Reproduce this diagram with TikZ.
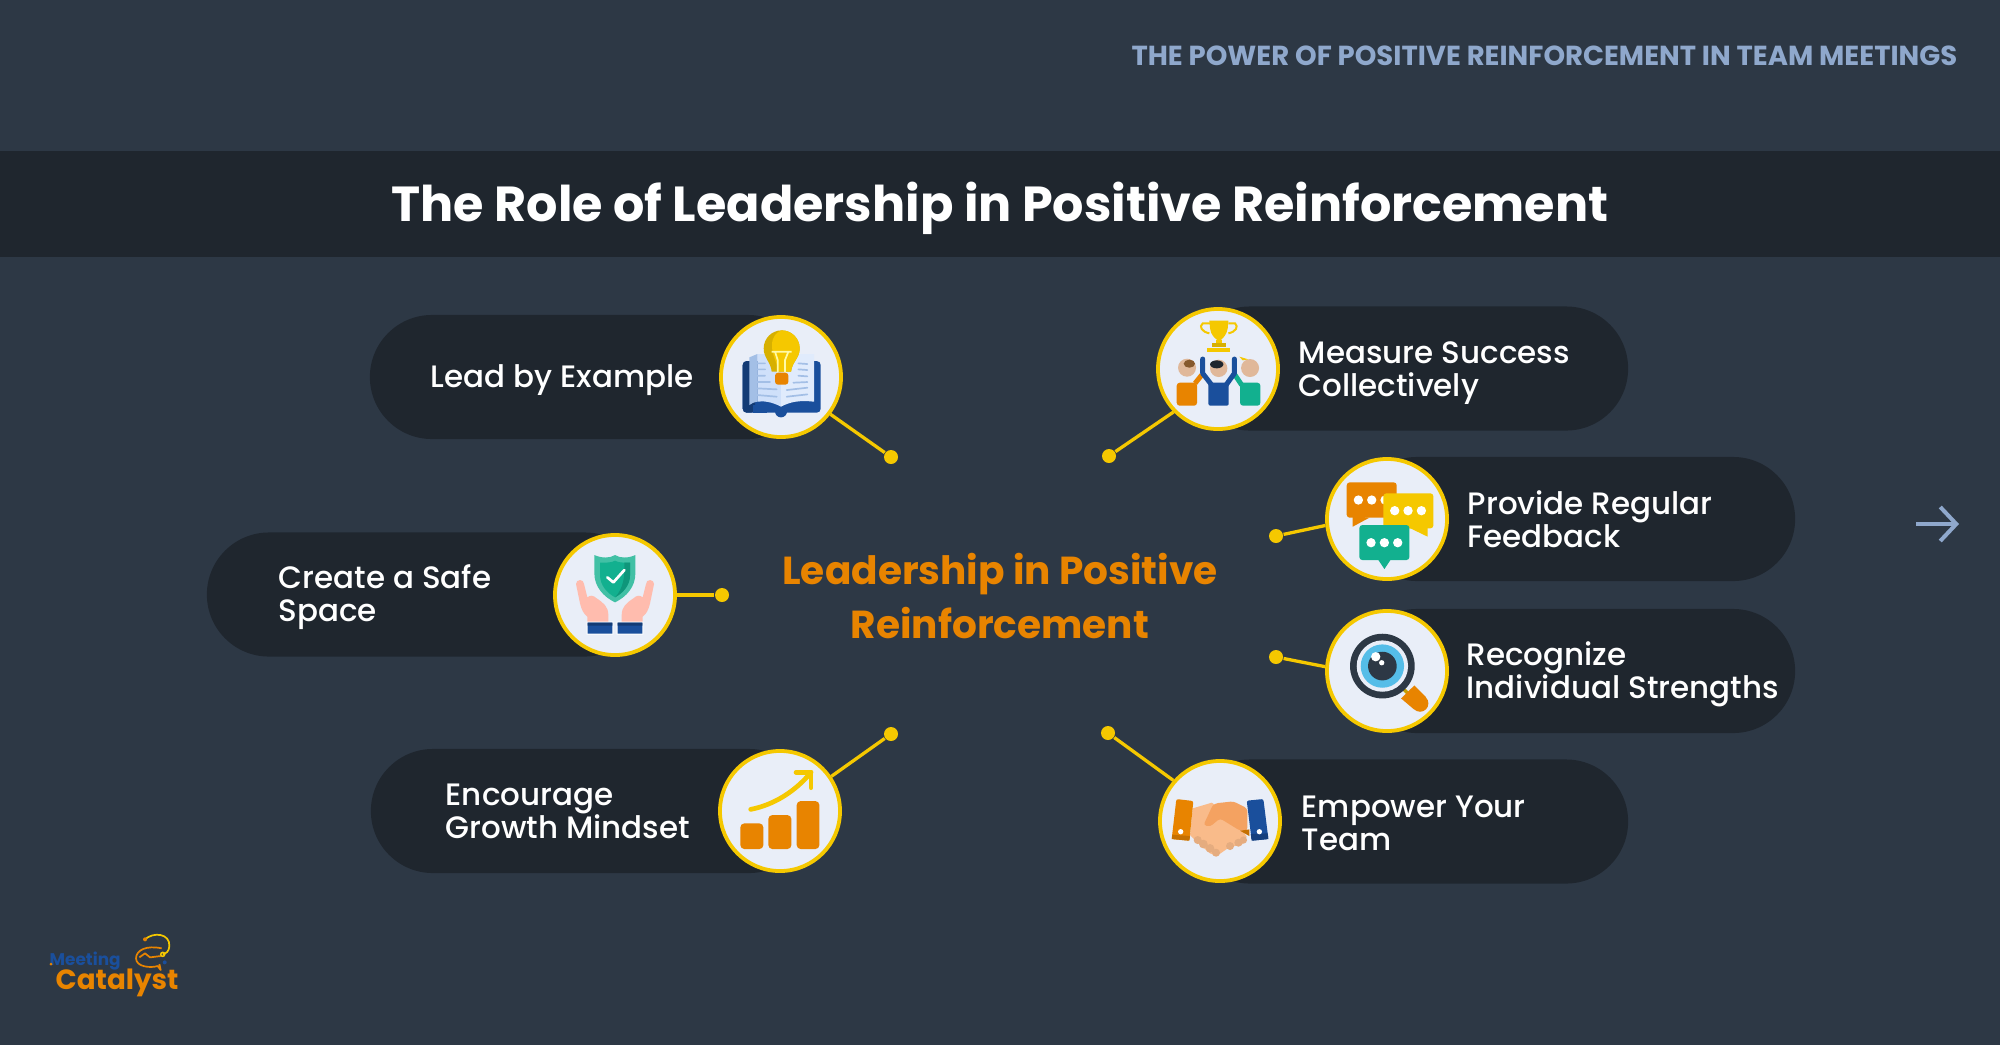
\documentclass[tikz,border=0pt]{standalone}
\usepackage{fontspec}
\setmainfont{Poppins}[UprightFont=* Medium,BoldFont=* Bold]
\usetikzlibrary{shapes.misc,arrows.meta}
\definecolor{slatebg}{HTML}{2D3845}
\definecolor{bandbg}{HTML}{1F262E}
\definecolor{ringyellow}{HTML}{F5C800}
\definecolor{discfill}{HTML}{E9EEF8}
\definecolor{iconorange}{HTML}{E88400}
\definecolor{iconblue}{HTML}{1A4F9C}
\definecolor{iconteal}{HTML}{12B08F}
\definecolor{headblue}{HTML}{8FA8CC}
\definecolor{skin}{HTML}{E0B89A}
\definecolor{pageleft}{HTML}{CFE0FA}
\definecolor{pageright}{HTML}{E0EBFC}
\definecolor{pageedge}{HTML}{A3BFE6}
\definecolor{eyeblue}{HTML}{55BDE8}
\definecolor{palmlight}{HTML}{FFBCAE}
\definecolor{handlight}{HTML}{F9BB8A}
\definecolor{handdark}{HTML}{F4A261}
\tikzstyle{pill}=[rounded rectangle, fill=bandbg, minimum height=1.24cm, inner sep=0pt]
\tikzstyle{disc}=[circle, draw=ringyellow, fill=discfill, line width=0.38mm, minimum size=1.2cm, inner sep=0pt]
\tikzstyle{dot}=[circle, fill=ringyellow, minimum size=0.14cm, inner sep=0pt]
\tikzstyle{link}=[ringyellow, line width=0.33mm]
\tikzstyle{itemtext}=[white, anchor=west, align=left, inner sep=0pt, font=\fontsize{8.8}{9.44}\selectfont]
\tikzstyle{iconat}=[shift={(#1)}, x=0.03333mm, y=-0.03333mm]

\begin{document}
\begin{tikzpicture}[x=0.01cm, y=-0.01cm]
				\useasboundingbox (0,0) rectangle (2000,1045);
				\fill[slatebg] (0,0) rectangle (2000,1045);
				\fill[bandbg] (0,150.5) rectangle (2000,257);

				\node (header) [headblue, anchor=east, inner sep=0pt, font=\bfseries\fontsize{7.83}{9}\selectfont] at (1958,56) {THE POWER OF POSITIVE REINFORCEMENT IN TEAM MEETINGS};
				\node (title) [white, inner sep=0pt, font=\bfseries\fontsize{14}{18}\selectfont] at (1000,208) {The Role of Leadership in Positive Reinforcement};
				\node (centre) [iconorange, align=center, inner sep=0pt, font=\bfseries\fontsize{11.1}{15.6}\selectfont] at (1000,596) {Leadership in Positive\\Reinforcement};

				% pills
				\node (leadpill) [pill, minimum width=4.4cm] at (590,377) {};
				\node (safepill) [pill, minimum width=4.4cm] at (427,594.5) {};
				\node (growpill) [pill, minimum width=4.4cm] at (591,811) {};
				\node (measurepill) [pill, minimum width=4.4cm] at (1408,368.5) {};
				\node (feedbackpill) [pill, minimum width=4.4cm] at (1575,519) {};
				\node (strengthpill) [pill, minimum width=4.4cm] at (1575,671) {};
				\node (teampill) [pill, minimum width=4.4cm] at (1408,821.5) {};

				% labels
				\node (leadtext) [itemtext] at (430,380) {Lead by Example};
				\node (safetext) [itemtext] at (278,597) {Create a Safe\\Space};
				\node (growtext) [itemtext] at (445,811) {Encourage\\Growth Mindset};
				\node (measuretext) [itemtext] at (1298,373) {Measure Success\\Collectively};
				\node (feedbacktext) [itemtext] at (1467,519) {Provide Regular\\Feedback};
				\node (strengthtext) [itemtext] at (1466,674) {Recognize\\Individual Strengths};
				\node (teamtext) [itemtext] at (1301,823) {Empower Your\\Team};

				% discs and dots
				\node (leaddisc) [disc] at (781,377) {};
				\node (safedisc) [disc] at (615,595) {};
				\node (growdisc) [disc] at (780,811) {};
				\node (measuredisc) [disc] at (1218,369) {};
				\node (feedbackdisc) [disc] at (1387,519) {};
				\node (strengthdisc) [disc] at (1387,671) {};
				\node (teamdisc) [disc] at (1220,821) {};

				\node (leaddot) [dot] at (891,457) {};
				\node (safedot) [dot] at (722,595) {};
				\node (growdot) [dot] at (891,734) {};
				\node (measuredot) [dot] at (1109,456) {};
				\node (feedbackdot) [dot] at (1276,536) {};
				\node (strengthdot) [dot] at (1276,657) {};
				\node (teamdot) [dot] at (1108,733) {};

				\draw[link] (leaddisc.323) -- (leaddot);
				\draw[link] (safedisc) -- (safedot);
				\draw[link] (growdisc.34) -- (growdot);
				\draw[link] (measuredisc.224) -- (measuredot);
				\draw[link] (feedbackdisc.186) -- (feedbackdot);
				\draw[link] (strengthdisc.176) -- (strengthdot);
				\draw[link] (teamdisc.139) -- (teamdot);

				% next arrow
				\coordinate (nexttail) at (1916,524);
				\coordinate (nexthead) at (1959,524);
				\draw[headblue, line width=0.4mm, -{Straight Barb[length=1.6mm,width=3.4mm]}] (nexttail) -- (nexthead);

				% book and bulb
				\begin{scope}[iconat={700,290}]
					\fill[iconblue, rounded corners=0.4mm] (128,213) rectangle (362,368);
					\fill[iconblue] (225,364) arc [start angle=180, end angle=0, radius=18] -- cycle;
					\fill[iconblue!75!black, rounded corners=0.4mm] (128,213) rectangle (165,368);
					\fill[iconblue] (158,345) rectangle (200,368);
					\fill[pageleft] (172,192) -- (243,192) -- (243,350) .. controls (215,335) and (190,332) .. (172,335) -- cycle;
					\fill[pageright] (243,192) -- (342,192) -- (342,335) .. controls (300,330) and (270,335) .. (243,350) -- cycle;
					\fill[pageedge] (148,202) -- (172,192) -- (172,335) .. controls (160,337) and (155,340) .. (148,345) -- cycle;
					\draw[pageedge, line width=0.17mm, line cap=round] (172,220) -- (195,220) (172,238) -- (195,238) (172,257) -- (195,257) (172,276) -- (210,276) (172,295) -- (230,298) (172,315) -- (230,320) (295,220) -- (322,222) (295,238) -- (322,240) (295,257) -- (322,259) (280,278) -- (322,276) (260,300) -- (322,293) (260,320) -- (322,313);
					\fill[ringyellow!88!black] (215,245) .. controls (212,215) and (191,205) .. (191,175) arc [start angle=180, end angle=360, radius=54] .. controls (299,205) and (276,215) .. (273,245) -- cycle;
					\fill[ringyellow] (245,121) arc [start angle=270, end angle=360, radius=54] .. controls (299,205) and (276,215) .. (273,245) -- (235,245) .. controls (230,210) and (216,200) .. (216,165) .. controls (216,140) and (230,125) .. (245,121);
					\draw[yellow!35!white, line width=0.17mm] (215,185) -- (275,185) (225,185) -- (233,210) -- (233,248) (265,185) -- (255,210) -- (255,248);
					\fill[iconorange, rounded corners=0.3mm] (225,248) rectangle (265,284);
				\end{scope}

				% trophy and team
				\begin{scope}[iconat={1100,290}]
					\draw[ringyellow, line width=0.2mm] (330,100) -- (308,100) .. controls (296,110) and (305,125) .. (328,130);
					\draw[ringyellow, line width=0.2mm] (385,100) -- (405,100) .. controls (416,110) and (408,125) .. (385,130);
					\fill[ringyellow] (328,92) -- (385,92) -- (383,115) .. controls (380,135) and (368,145) .. (362,150) -- (352,150) .. controls (345,145) and (332,135) .. (330,115) -- cycle;
					\fill[ringyellow] (348,150) rectangle (366,162);
					\fill[ringyellow!88!black] (337,160) rectangle (377,172);
					\fill[ringyellow] (321,175) rectangle (390,186);
					\draw[iconorange, line width=0.5mm] (285,280) -- (305,255);
					\fill[iconorange, rounded corners=0.3mm] (230,278) rectangle (291,347);
					\fill[skin] (261,233) circle [radius=27];
					\fill[brown!70!black] (268,221) ellipse [x radius=17, y radius=12];
					\draw[iconteal, line width=0.5mm] (425,285) -- (405,255);
					\fill[iconteal, rounded corners=0.3mm] (420,278) rectangle (481,347);
					\fill[skin] (450,234) circle [radius=27];
					\fill[ringyellow] (418,200) -- (445,208) -- (428,211) -- cycle;
					\fill[skin] (356,235) circle [radius=26];
					\fill[bandbg] (350,223) ellipse [x radius=20, y radius=12];
					\draw[iconblue, line width=0.5mm, line cap=round, line join=round] (308,207) -- (308,250) -- (335,285);
					\draw[iconblue, line width=0.5mm, line cap=round, line join=round] (403,207) -- (403,250) -- (378,285);
					\fill[iconblue, rounded corners=0.2mm] (325,278) rectangle (386,347);
				\end{scope}

				% speech bubbles
				\begin{scope}[iconat={1260,450}]
					\fill[iconorange, rounded corners=0.3mm] (260,97) rectangle (410,203);
					\fill[iconorange] (278,198) -- (278,230) -- (328,203) -- cycle;
					\fill[white] (295,150) circle [radius=14] (335,150) circle [radius=14] (375,150) circle [radius=14];
					\fill[ringyellow, rounded corners=0.3mm] (370,130) rectangle (520,235);
					\fill[ringyellow] (445,232) -- (503,260) -- (503,232) -- cycle;
					\fill[white] (404,182) circle [radius=14] (444,182) circle [radius=14] (484,182) circle [radius=14];
					\fill[iconteal, rounded corners=0.3mm] (298,225) rectangle (448,330);
					\fill[iconteal] (355,330) -- (373,357) -- (391,330) -- cycle;
					\fill[white] (333,278) circle [radius=14] (373,278) circle [radius=14] (413,278) circle [radius=14];

					% magnifier
					\draw[ringyellow!80!black, line width=0.33mm] (428,715) -- (447,733);
					\fill[iconorange] (423,745) -- (463,706) -- (498,741) -- (462,778) -- cycle;
					\fill[iconorange] (480,760) circle [radius=25];
					\fill[slatebg] (367,648) circle [radius=97];
					\fill[discfill] (367,648) circle [radius=77];
					\fill[eyeblue] (367,648) circle [radius=65];
					\fill[slatebg] (367,648) circle [radius=43];
					\fill[white] (347,620) circle [radius=14] (365,638) circle [radius=8];
				\end{scope}

				% shield and hands
				\begin{scope}[iconat={530,520}]
					\fill[iconteal!80!white] (193,105) .. controls (215,115) and (240,115) .. (255,105) .. controls (270,115) and (295,115) .. (316,105) -- (316,160) .. controls (316,200) and (290,230) .. (255,247) .. controls (220,230) and (193,200) .. (193,160) -- cycle;
					\fill[iconteal] (210,128) .. controls (230,128) and (245,128) .. (255,122) .. controls (265,128) and (280,128) .. (300,128) -- (300,165) .. controls (300,195) and (280,218) .. (255,232) .. controls (230,218) and (210,195) .. (210,165) -- cycle;
					\fill[iconteal!85!black] (300,128) -- (300,165) .. controls (300,195) and (280,218) .. (255,232) .. controls (280,205) and (285,170) .. (283,128) -- cycle;
					\draw[white, line width=0.27mm, line cap=round, line join=round] (232,172) -- (250,187) -- (283,150);
					\fill[palmlight] (138,192) arc [start angle=180, end angle=360, radius=12] -- (172,232) .. controls (180,225) and (190,225) .. (200,235) .. controls (220,248) and (235,260) .. (235,285) -- (235,306) -- (172,306) -- (172,290) .. controls (160,280) and (155,270) .. (150,250) -- cycle;
					\fill[palmlight] (372,192) arc [start angle=0, end angle=-180, radius=12] -- (338,232) .. controls (330,225) and (320,225) .. (310,235) .. controls (290,248) and (275,260) .. (275,285) -- (275,306) -- (338,306) -- (338,290) .. controls (350,280) and (355,270) .. (360,250) -- cycle;
					\fill[white] (170,305) rectangle (250,344) (260,305) rectangle (340,344);
					\fill[iconblue] (173,308) rectangle (247,341) (263,308) rectangle (337,341);
					\fill[iconblue!75!black] (173,308) rectangle (247,317) (263,308) rectangle (337,317);
				\end{scope}

				% growth bars
				\begin{scope}[iconat={700,720}]
					\fill[iconorange, rounded corners=0.4mm] (121,310) rectangle (190,387);
					\fill[iconorange, rounded corners=0.4mm] (205,285) rectangle (274,387);
					\fill[iconorange, rounded corners=0.4mm] (290,243) rectangle (358,387);
					\draw[ringyellow, line width=0.47mm, line cap=round, line join=round] (152,268) .. controls (220,255) and (285,215) .. (333,157);
					\draw[ringyellow, line width=0.47mm, line cap=round, line join=round] (288,157) -- (333,157) -- (333,203);
				\end{scope}

				% handshake
				\begin{scope}[iconat={1130,740}]
					\fill[handlight] (188,205) -- (245,188) -- (310,230) -- (350,290) -- (335,315) -- (300,320) -- (260,348) -- (240,340) -- (205,310) -- (180,285) -- cycle;
					\fill[handlight!92!black] (203,300) circle [radius=12] (220,312) circle [radius=13] (240,325) circle [radius=13] (258,338) circle [radius=12] (300,318) circle [radius=12] (325,308) circle [radius=12] (340,300) circle [radius=11];
					\fill[handdark, rounded corners=0.3mm] (220,255) .. controls (235,225) and (245,200) .. (255,190) -- (310,184) -- (352,205) -- (352,272) -- (330,272) -- (270,235) -- (240,260) -- cycle;
					\fill[iconorange!85!black] (330,272) -- (358,268) -- (358,288) -- cycle;
					\fill[iconorange, rounded corners=0.2mm] (139,177) -- (190,183) -- (178,302) -- (125,297) -- cycle;
					\fill[iconorange!85!black] (127,284) -- (180,288) -- (178,302) -- (125,297) -- cycle;
					\fill[iconblue, rounded corners=0.2mm] (350,182) -- (400,177) -- (415,297) -- (365,302) -- cycle;
					\fill[iconblue!80!black] (362,282) -- (413,280) -- (415,297) -- (365,302) -- cycle;
					\fill[white] (152,275) circle [radius=8] (388,275) circle [radius=8];
				\end{scope}

				% logo
				\begin{scope}[iconat={30,920}]
					\draw[ringyellow, line width=0.17mm] (345,58) .. controls (370,35) and (420,40) .. (418,78) .. controls (417,95) and (408,100) .. (398,103);
					\fill[iconorange] (345,58) circle [radius=6];
					\draw[iconorange, line width=0.17mm, line join=round] (395,85) .. controls (350,75) and (318,90) .. (318,115) .. controls (318,140) and (360,145) .. (383,138) -- (392,150) -- (388,132);
					\draw[iconorange, line width=0.17mm, line join=round] (328,112) -- (345,100) -- (360,112) -- (392,108);
					\draw[ringyellow, line width=0.15mm] (398,103) circle [radius=6];
					\fill[iconblue] (404,127) circle [radius=6];
				\end{scope}
				\node (logomeeting) [iconblue, anchor=west, inner sep=0pt, font=\bfseries\fontsize{4.8}{6}\selectfont] at (49,961) {Meeting};
				\node (logocatalyst) [iconorange, anchor=west, inner sep=0pt, font=\bfseries\fontsize{7.9}{10}\selectfont] at (55,983) {Catalyst};
				\node (logodot) [circle, fill=iconorange, minimum size=0.03cm, inner sep=0pt] at (51,964) {};
			\end{tikzpicture}
\end{document}
